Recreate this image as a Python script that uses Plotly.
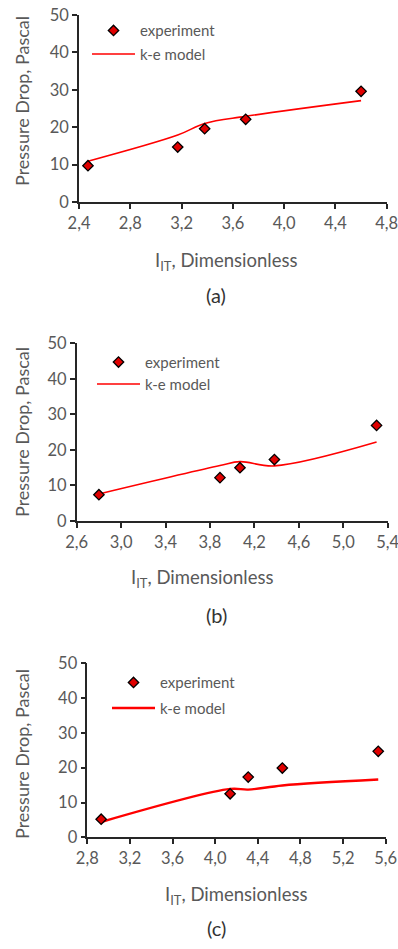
import plotly.graph_objects as go

W, H = 398, 949

# ---------------- data ----------------
xa = [2.47, 3.17, 3.38, 3.70, 4.60]
ya_exp = [9.7, 14.7, 19.6, 22.1, 29.6]
ya_model = [10.9, 17.9, 21.0, 22.9, 27.1]

xb = [2.80, 3.89, 4.07, 4.38, 5.30]
yb_exp = [7.4, 12.2, 15.0, 17.3, 26.9]
yb_model = [7.6, 15.6, 16.7, 15.5, 22.2]

xc = [2.93, 4.14, 4.31, 4.63, 5.53]
yc_exp = [5.2, 12.5, 17.3, 19.9, 24.7]
yc_model = [4.4, 13.9, 13.7, 14.9, 16.6]

xticks_a = [2.4, 2.8, 3.2, 3.6, 4.0, 4.4, 4.8]
xticks_b = [2.6, 3.0, 3.4, 3.8, 4.2, 4.6, 5.0, 5.4]
xticks_c = [2.8, 3.2, 3.6, 4.0, 4.4, 4.8, 5.2, 5.6]
yticks = [0, 10, 20, 30, 40, 50]
captions = ["(a)", "(b)", "(c)"]
series_names = ["experiment", "k-e model"]

FONT = "Lato"
GRAY = "#595959"
AXC = "#262626"


def px(x):
    return x / W


def py(y):
    return 1 - y / H


def lbl(v):
    return f"{v:.1f}".replace(".", ",")


# panel geometry in pixels: (left, right, top, bottom)
panels = [
    dict(x=xa, ye=ya_exp, ym=ya_model, ticks=xticks_a, box=(79, 386.7, 15, 202), lw=1.6,
         xt=(226, 262), yt=(22, 101), cap=(216, 295), leg=(87, 30.7, 54.3)),
    dict(x=xb, ye=yb_exp, ym=yb_model, ticks=xticks_b, box=(76.7, 387.7, 343.3, 521), lw=1.6,
         xt=(202, 578), yt=(22, 432), cap=(216, 615), leg=(92, 362.3, 384.3)),
    dict(x=xc, ye=yc_exp, ym=yc_model, ticks=xticks_c, box=(87.3, 385.7, 663.3, 837.3), lw=2.4,
         xt=(236, 895), yt=(22, 754), cap=(216, 928), leg=(107, 682.7, 708.3)),
]

fig = go.Figure()
layout = dict(
    width=W, height=H, margin=dict(l=0, r=0, t=0, b=0, autoexpand=False),
    paper_bgcolor="white", plot_bgcolor="white",
    font=dict(family=FONT, color=GRAY),
    annotations=[],
)

for i, p in enumerate(panels):
    n = "" if i == 0 else str(i + 1)
    l, r, t, b = p["box"]
    xaxis_name = "xaxis" + n
    yaxis_name = "yaxis" + n
    xref = "x" + n
    yref = "y" + n
    leg_a = "legend" + ("" if i == 0 else str(2 * i + 1))
    leg_b = "legend" + str(2 * i + 2)

    fig.add_trace(go.Scatter(
        x=p["x"], y=p["ym"], mode="lines", name=series_names[1],
        line=dict(color="#FF0000", width=p["lw"], shape="spline", smoothing=1.0),
        xaxis=xref, yaxis=yref, legend=leg_b, showlegend=True))
    fig.add_trace(go.Scatter(
        x=p["x"], y=p["ye"], mode="markers", name=series_names[0],
        marker=dict(symbol="diamond", size=8, color="#E00000",
                    line=dict(color="black", width=1.3)),
        xaxis=xref, yaxis=yref, legend=leg_a, showlegend=True))

    ticks = p["ticks"]
    layout[xaxis_name] = dict(
        domain=[px(l), px(r)], anchor=yref, range=[ticks[0], ticks[-1]],
        tickmode="array", tickvals=ticks, ticktext=[lbl(v) for v in ticks],
        showgrid=False, zeroline=False, showline=True, linecolor=AXC, linewidth=1.5,
        ticks="outside", ticklen=5, tickwidth=1.5, tickcolor=AXC,
        ticklabeloverflow="allow",
        tickfont=dict(family=FONT, size=16.5, color=GRAY), fixedrange=True)
    layout[yaxis_name] = dict(
        domain=[py(b), py(t)], anchor=xref, range=[0, 50],
        tickmode="array", tickvals=yticks, ticktext=[str(v) for v in yticks],
        showgrid=False, zeroline=False, showline=True, linecolor=AXC, linewidth=1.5,
        ticks="outside", ticklen=5, tickwidth=1.5, tickcolor=AXC,
        ticklabeloverflow="allow",
        tickfont=dict(family=FONT, size=16.5, color=GRAY), fixedrange=True)

    lx, ly1, ly2 = p["leg"]
    for name, yy in ((leg_a, ly1), (leg_b, ly2)):
        layout[name] = dict(
            x=px(lx), y=py(yy), xanchor="left", yanchor="middle",
            xref="paper", yref="paper", bgcolor="rgba(0,0,0,0)",
            borderwidth=0, itemwidth=43,
            font=dict(family=FONT, size=15, color=GRAY))

    layout["annotations"].append(dict(
        x=px(p["xt"][0]), y=py(p["xt"][1]), xref="paper", yref="paper",
        text="I<sub>IT</sub>, Dimensionless", showarrow=False,
        xanchor="center", yanchor="middle",
        font=dict(family=FONT, size=18.5, color=GRAY)))
    layout["annotations"].append(dict(
        x=px(p["yt"][0]), y=py(p["yt"][1]), xref="paper", yref="paper",
        text="Pressure Drop, Pascal", showarrow=False, textangle=-90,
        xanchor="center", yanchor="middle",
        font=dict(family=FONT, size=18, color=GRAY)))
    layout["annotations"].append(dict(
        x=px(p["cap"][0]), y=py(p["cap"][1]), xref="paper", yref="paper",
        text=captions[i], showarrow=False, xanchor="center", yanchor="middle",
        font=dict(family=FONT, size=20, color="#333333")))

fig.update_layout(**layout)
fig.write_html("out.html", config=dict(displayModeBar=False))
